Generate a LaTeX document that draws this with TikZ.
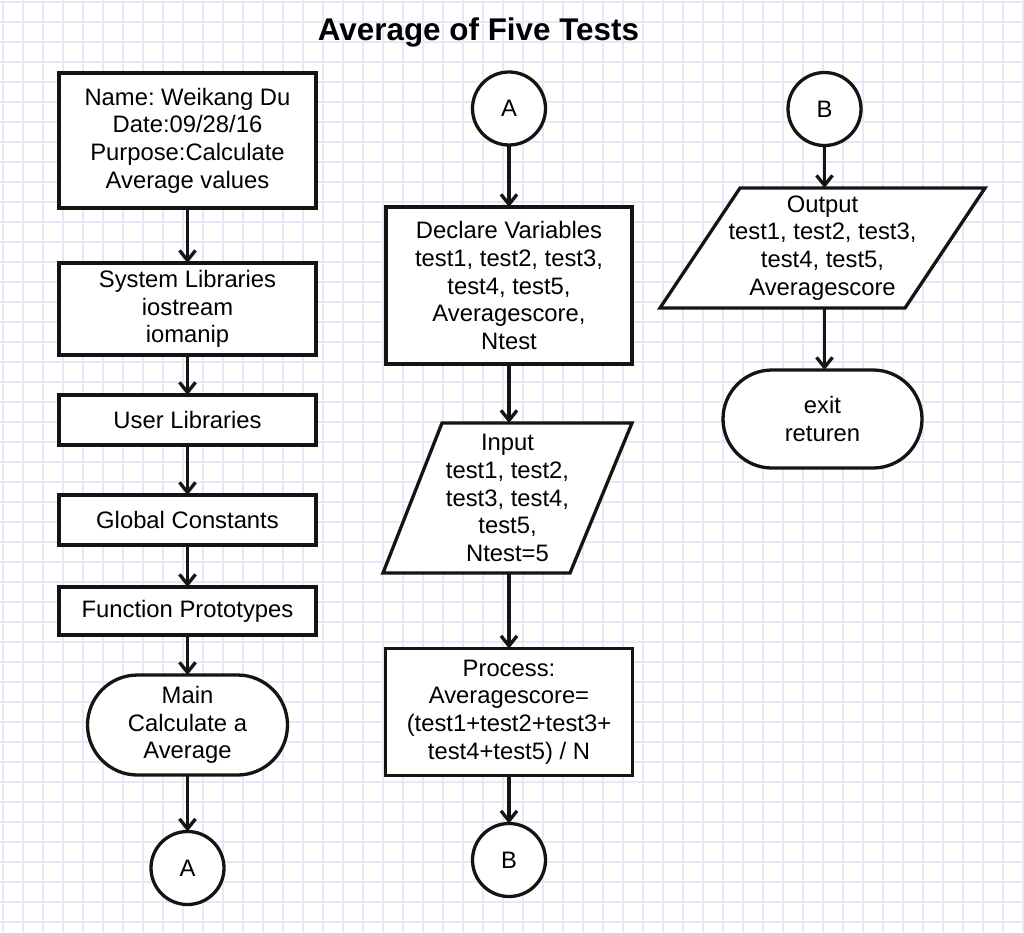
\documentclass[tikz,border=0pt]{standalone}
\usepackage{fontspec}
\setmainfont{Liberation Sans}
\usetikzlibrary{arrows.meta,shapes.misc}
\pgfdeclarelayer{bg}
\pgfdeclarelayer{mid}
\pgfsetlayers{bg,mid,main}
\definecolor{gridc}{RGB}{231,231,248}
\definecolor{ink}{RGB}{20,20,20}
\frenchspacing
\begin{document}
\begin{tikzpicture}[x=1pt,y=-1pt,
  txt/.style={inner sep=0pt,outer sep=0pt,align=center,text=black,font=\fontsize{23.8}{27.7}\selectfont},
  box/.style={txt,draw=ink,line width=3.3pt,fill=white,rectangle},
  term/.style={txt,draw=ink,line width=3.3pt,fill=white,rounded rectangle},
  conn/.style={txt,draw=ink,line width=3.3pt,fill=white,circle,minimum size=73pt},
  shapeline/.style={draw=ink,line width=3.3pt,fill=white,line join=miter},
  gridline/.style={draw=gridc,line width=1.6pt},
  arr/.style={draw=ink,line width=3.3pt,-{Straight Barb[length=10pt,width=16pt]}}]
\useasboundingbox (0,0) rectangle (1024,932);
\begin{pgfonlayer}{bg}
  \fill[white] (0,0) rectangle (1024,932);
  \foreach \i in {0,...,51} \draw[gridline] (3+20*\i,0) -- (3+20*\i,932);
  \foreach \j in {0,...,46} \draw[gridline] (0,2+20*\j) -- (1024,2+20*\j);
\end{pgfonlayer}

\node[font=\fontsize{31.4}{36}\selectfont\bfseries,anchor=base,inner sep=0pt] (title) at (478.5,40) {Average of Five Tests};

% left column
\node[box,minimum width=257pt,minimum height=135pt] (n1) at (187.5,140.5) {Name: Weikang Du\\Date:09/28/16\\Purpose:Calculate\\Average values};
\node[box,minimum width=257pt,minimum height=92pt] (n2) at (187.5,309) {System Libraries\\iostream\\iomanip};
\node[box,minimum width=257pt,minimum height=50pt] (n3) at (187.5,420) {User Libraries};
\node[box,minimum width=257pt,minimum height=50pt] (n4) at (187.5,520) {Global Constants};
\node[box,minimum width=257pt,minimum height=48pt] (n5) at (187.5,611) {Function Prototypes};
\node[term,minimum width=200pt,minimum height=100pt] (main) at (187.5,725) {Main\\Calculate a\\Average};
\node[conn] (cA1) at (187.5,868) {A};

% middle column
\node[conn] (cA2) at (509,108.5) {A};
\node[box,minimum width=246pt,minimum height=157pt] (decl) at (509,285.5) {Declare Variables\\test1, test2, test3,\\test4, test5,\\Averagescore,\\Ntest};
\node[txt,minimum width=249pt,minimum height=150pt] (in) at (507.5,498) {Input\\test1, test2,\\test3, test4,\\test5,\\Ntest=5};
\begin{pgfonlayer}{mid}
  \draw[shapeline] ([xshift=59pt]in.north west) -- (in.north east) -- ([xshift=-62pt]in.south east) -- (in.south west) -- cycle;
\end{pgfonlayer}
\node[box,minimum width=247pt,minimum height=127pt] (proc) at (509,712) {Process:\\Averagescore=\\(test1+test2+test3+\\test4+test5) / N};
\node[conn] (cB1) at (509,860) {B};

% right column
\node[conn] (cB2) at (824.5,109) {B};
\node[txt,minimum width=325pt,minimum height=120pt] (out) at (822.5,248) {Output\\test1, test2, test3,\\test4, test5,\\Averagescore};
\begin{pgfonlayer}{mid}
  \draw[shapeline] ([xshift=80pt]out.north west) -- (out.north east) -- ([xshift=-80pt]out.south east) -- (out.south west) -- cycle;
\end{pgfonlayer}
\node[term,minimum width=199pt,minimum height=98pt] (exit) at (822.5,419) {exit\\returen};

% connectors
\draw[arr] (n1.south) -- (n2.north);
\draw[arr] (n2.south) -- (n3.north);
\draw[arr] (n3.south) -- (n4.north);
\draw[arr] (n4.south) -- (n5.north);
\draw[arr] (n5.south) -- (main.north);
\draw[arr] (main.south) -- (cA1.north);
\draw[arr] (cA2.south) -- (decl.north);
\draw[arr] (decl.south) -- (decl.south |- in.north);
\draw[arr] (decl.south |- in.south) -- (proc.north);
\draw[arr] (proc.south) -- (cB1.north);
\draw[arr] (cB2.south) -- (cB2.south |- out.north);
\draw[arr] (cB2.south |- out.south) -- (cB2.south |- exit.north);
\end{tikzpicture}
\end{document}
